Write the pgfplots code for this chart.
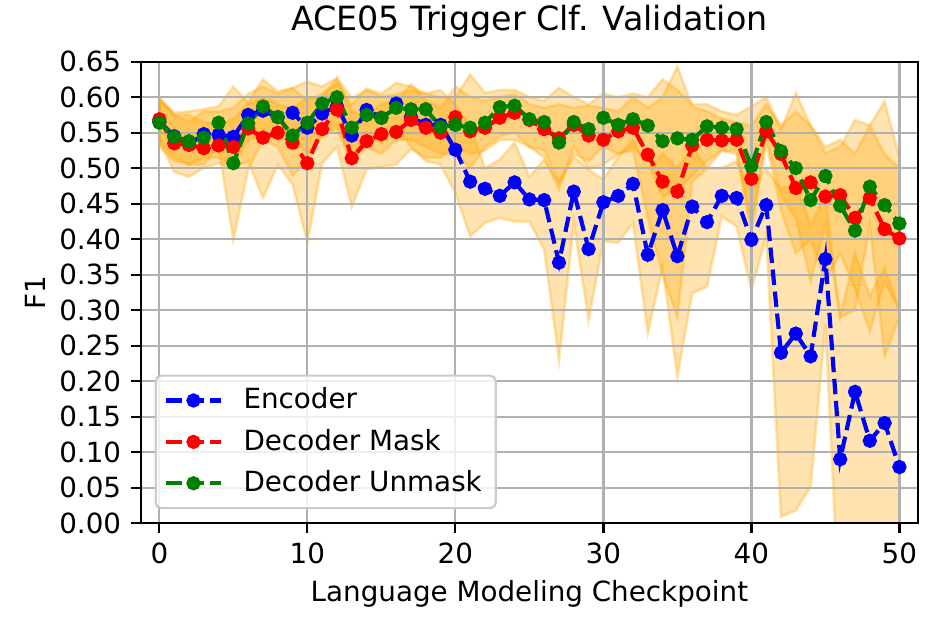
\documentclass[border=0pt]{standalone}
\usepackage{pgfplots}
\pgfplotsset{compat=1.18}
\usepackage{pgfplotstable}
\usepgfplotslibrary{fillbetween}
\usepackage{fontspec}
\setmainfont{DejaVu Sans}
\definecolor{mplblue}{HTML}{0000FF}
\definecolor{mplred}{HTML}{FF0000}
\definecolor{mplgreen}{HTML}{008000}
\definecolor{mplorange}{HTML}{FFA500}
\definecolor{gridgray}{HTML}{B0B0B0}
\definecolor{legendedge}{HTML}{CCCCCC}

\pgfplotstableread{
x enc encL encU mask maskL maskU un unL unU
0 0.566 0.535 0.597 0.569 0.540 0.600 0.564 0.530 0.597
1 0.545 0.515 0.575 0.535 0.495 0.575 0.544 0.510 0.578
2 0.533 0.505 0.565 0.533 0.488 0.575 0.538 0.505 0.580
3 0.548 0.515 0.580 0.528 0.500 0.565 0.543 0.505 0.583
4 0.547 0.515 0.580 0.532 0.507 0.560 0.564 0.530 0.587
5 0.544 0.505 0.585 0.530 0.500 0.570 0.507 0.399 0.615
6 0.575 0.540 0.605 0.556 0.510 0.590 0.563 0.498 0.592
7 0.581 0.545 0.615 0.543 0.458 0.600 0.587 0.540 0.625
8 0.572 0.540 0.605 0.550 0.505 0.590 0.572 0.530 0.608
9 0.578 0.545 0.613 0.536 0.477 0.585 0.546 0.490 0.613
10 0.557 0.520 0.595 0.507 0.395 0.600 0.564 0.510 0.622
11 0.577 0.545 0.605 0.555 0.507 0.600 0.591 0.550 0.615
12 0.587 0.555 0.620 0.583 0.530 0.627 0.600 0.560 0.627
13 0.546 0.505 0.590 0.514 0.446 0.580 0.557 0.510 0.599
14 0.582 0.550 0.612 0.538 0.498 0.575 0.575 0.530 0.610
15 0.571 0.535 0.605 0.548 0.502 0.590 0.571 0.520 0.601
16 0.591 0.560 0.620 0.551 0.505 0.595 0.585 0.540 0.604
17 0.572 0.530 0.615 0.568 0.527 0.618 0.583 0.540 0.610
18 0.561 0.510 0.605 0.557 0.515 0.595 0.583 0.530 0.605
19 0.561 0.505 0.610 0.550 0.515 0.585 0.558 0.520 0.600
20 0.526 0.465 0.590 0.572 0.530 0.615 0.561 0.520 0.600
21 0.481 0.404 0.560 0.552 0.520 0.600 0.557 0.500 0.632
22 0.471 0.423 0.500 0.557 0.525 0.595 0.564 0.530 0.606
23 0.461 0.430 0.512 0.571 0.540 0.600 0.586 0.545 0.610
24 0.480 0.425 0.536 0.578 0.540 0.605 0.588 0.550 0.610
25 0.456 0.425 0.488 0.568 0.530 0.590 0.569 0.530 0.600
26 0.455 0.385 0.512 0.555 0.515 0.585 0.565 0.525 0.595
27 0.367 0.230 0.480 0.542 0.470 0.590 0.536 0.480 0.613
28 0.467 0.423 0.516 0.561 0.530 0.585 0.565 0.520 0.600
29 0.386 0.286 0.498 0.546 0.500 0.588 0.555 0.510 0.590
30 0.452 0.397 0.484 0.540 0.505 0.585 0.571 0.530 0.605
31 0.461 0.395 0.516 0.552 0.520 0.580 0.561 0.520 0.600
32 0.478 0.423 0.540 0.557 0.525 0.600 0.569 0.530 0.605
33 0.378 0.268 0.500 0.519 0.430 0.585 0.560 0.510 0.600
34 0.441 0.361 0.520 0.481 0.350 0.600 0.538 0.460 0.625
35 0.376 0.206 0.500 0.467 0.290 0.643 0.542 0.470 0.610
36 0.446 0.324 0.530 0.532 0.480 0.587 0.540 0.490 0.590
37 0.424 0.333 0.500 0.540 0.500 0.580 0.559 0.510 0.590
38 0.461 0.432 0.500 0.539 0.525 0.570 0.557 0.525 0.580
39 0.458 0.418 0.510 0.540 0.525 0.565 0.555 0.520 0.575
40 0.399 0.328 0.470 0.485 0.420 0.560 0.503 0.410 0.587
41 0.448 0.404 0.500 0.552 0.535 0.590 0.565 0.545 0.600
42 0.240 0.009 0.470 0.520 0.440 0.560 0.524 0.460 0.554
43 0.267 0.018 0.480 0.472 0.380 0.580 0.500 0.430 0.606
44 0.235 0.051 0.420 0.480 0.400 0.560 0.455 0.340 0.560
45 0.372 0.280 0.460 0.460 0.340 0.530 0.489 0.420 0.521
46 0.090 -0.150 0.290 0.462 0.380 0.540 0.447 0.290 0.530
47 0.185 -0.100 0.380 0.430 0.330 0.520 0.412 0.300 0.568
48 0.116 -0.150 0.320 0.458 0.270 0.560 0.474 0.420 0.560
49 0.141 -0.100 0.360 0.414 0.340 0.520 0.448 0.235 0.594
50 0.079 -0.150 0.300 0.401 0.300 0.500 0.422 0.290 0.516
}\datatable

\begin{document}
\begin{tikzpicture}
\begin{axis}[
  set layers=standard,
  at={(0pt,0pt)}, anchor=south west,
  scale only axis, width=279.8pt, height=166.1pt,
  xmin=-1.26, xmax=51.26, ymin=0, ymax=0.65,
  xtick={0,10,20,30,40,50},
  ytick={0,0.05,0.10,0.15,0.20,0.25,0.30,0.35,0.40,0.45,0.50,0.55,0.60,0.65},
  xticklabel={\pgfmathprintnumber[assume math mode=true]{\tick}},
  yticklabel={\pgfmathprintnumber[fixed,fixed zerofill,precision=2,assume math mode=true]{\tick}},
  tick align=outside,
  major tick length=3.5pt,
  tick style={black, line width=0.8pt},
  axis line style={line width=0.8pt},
  xtick pos=bottom, ytick pos=left,
  grid=major,
  major grid style={gridgray, line width=0.8pt},
  tick label style={font=\fontsize{10}{12}\selectfont},
  title={ACE05 Trigger Clf. Validation},
  title style={at={(axis description cs:0.5,1)}, anchor=base, yshift=5.4pt, font=\fontsize{12}{14.4}\selectfont},
  xlabel={Language Modeling Checkpoint},
  xlabel style={at={(axis description cs:0.5,0)}, anchor=base, yshift=-28.3pt, font=\fontsize{10}{12}\selectfont},
  ylabel={F1},
  ylabel style={at={(axis description cs:-0.1231,0.5)}, anchor=base, font=\fontsize{10}{12}\selectfont},
  fill between/on layer=axis background,
  legend style={at={(axis description cs:0,0)}, anchor=south west, xshift=5pt, yshift=5pt,
    draw=legendedge, line width=0.8pt, rounded corners=2pt, fill=white, fill opacity=0.8, text opacity=1,
    font=\fontsize{10}{12}\selectfont, row sep=1.8pt, column sep=5.4pt, inner xsep=3pt, inner ysep=2.4pt},
  legend cell align=left,
  legend image code/.code={\draw[mark repeat=2,mark phase=2] plot coordinates {(0pt,0pt) (9.85pt,0pt) (19.7pt,0pt)};},
]
% bands
\addplot[draw=none, forget plot, name path=eU] table[x=x,y=encU]{\datatable};
\addplot[draw=none, forget plot, name path=eL] table[x=x,y=encL]{\datatable};
\addplot[draw=none, forget plot, name path=mU] table[x=x,y=maskU]{\datatable};
\addplot[draw=none, forget plot, name path=mL] table[x=x,y=maskL]{\datatable};
\addplot[draw=none, forget plot, name path=uU] table[x=x,y=unU]{\datatable};
\addplot[draw=none, forget plot, name path=uL] table[x=x,y=unL]{\datatable};
\addplot[fill=mplorange, fill opacity=0.3, draw=mplorange, draw opacity=0.3, line width=1pt, forget plot] fill between[of=eU and eL];
\addplot[fill=mplorange, fill opacity=0.3, draw=mplorange, draw opacity=0.3, line width=1pt, forget plot] fill between[of=mU and mL];
\addplot[fill=mplorange, fill opacity=0.3, draw=mplorange, draw opacity=0.3, line width=1pt, forget plot] fill between[of=uU and uL];
% lines
\addplot[mplblue, line width=1.5pt, dash pattern=on 5.55pt off 2.4pt, mark=*, mark size=1.8pt, mark options={solid}] table[x=x,y=enc]{\datatable};
\addlegendentry{Encoder}
\addplot[mplred, line width=1.5pt, dash pattern=on 5.55pt off 2.4pt, mark=*, mark size=1.8pt, mark options={solid}] table[x=x,y=mask]{\datatable};
\addlegendentry{Decoder Mask}
\addplot[mplgreen, line width=1.5pt, dash pattern=on 5.55pt off 2.4pt, mark=*, mark size=1.8pt, mark options={solid}] table[x=x,y=un]{\datatable};
\addlegendentry{Decoder Unmask}
\end{axis}
\pgfresetboundingbox
\useasboundingbox (-50.65pt,-38.88pt) rectangle (285.9pt,188.3pt);
\end{tikzpicture}
\end{document}
